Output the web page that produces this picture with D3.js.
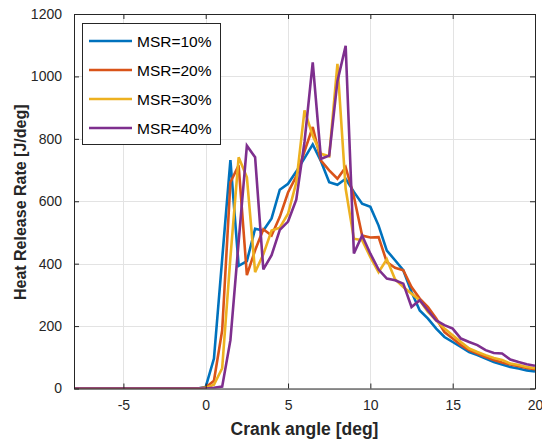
<!DOCTYPE html>
<html>
<head>
<meta charset="utf-8">
<script src="https://cdn.jsdelivr.net/npm/d3@7"></script>
<style>
  html, body { margin: 0; padding: 0; background: #fff; }
  svg { display: block; font-family: Arial, "Liberation Sans", sans-serif; }
</style>
</head>
<body>
<svg id="chart" width="542" height="441"></svg>
<script>
// Crank angle samples: -8 .. 20 every 0.5 deg
const angles = d3.range(-8, 20.0001, 0.5);
const seriesNames = ["MSR=10%", "MSR=20%", "MSR=30%", "MSR=40%"];
const seriesColors = ["#0072BD", "#D95319", "#EDB120", "#7E2F8E"];
const preZero = new Array(16).fill(0); // -8 .. -0.5

const msr10 = preZero.concat([5, 96, 415, 732, 393, 408, 512, 506, 545, 637, 656, 695, 738, 782, 728, 661, 653, 672, 630, 592, 582, 522, 442, 411, 379, 309, 250, 224, 192, 165, 149, 133, 117, 107, 96, 85, 77, 69, 64, 58, 55]);
const msr20 = preZero.concat([3, 25, 186, 661, 715, 363, 443, 510, 490, 550, 628, 680, 760, 838, 730, 699, 672, 709, 615, 490, 484, 485, 405, 387, 379, 325, 288, 261, 224, 181, 160, 139, 123, 112, 101, 91, 83, 77, 71, 66, 62]);
const msr30 = preZero.concat([2, 12, 65, 420, 741, 677, 373, 430, 506, 515, 560, 660, 891, 810, 752, 744, 1040, 640, 480, 475, 421, 373, 414, 350, 325, 304, 283, 245, 218, 192, 171, 149, 128, 117, 107, 98, 91, 80, 75, 69, 65]);
const msr40 = preZero.concat([0, 2, 6, 155, 470, 778, 741, 382, 427, 508, 535, 605, 790, 1045, 736, 746, 985, 1098, 433, 490, 432, 381, 352, 347, 336, 261, 283, 250, 218, 203, 192, 160, 149, 139, 123, 114, 112, 93, 85, 78, 73]);
const seriesValues = [msr10, msr20, msr30, msr40];

const xTicks = [-5, 0, 5, 10, 15, 20];
const yTicks = [0, 200, 400, 600, 800, 1000, 1200];
const xLabel = "Crank angle [deg]";
const yLabel = "Heat Release Rate [J/deg]";

const svg = d3.select("#chart");
const L = 74, R = 535, T = 14, B = 388.5;
const x = d3.scaleLinear().domain([-8, 20]).range([L, R]);
const y = d3.scaleLinear().domain([0, 1200]).range([B, T]);
const axisColor = "#262626";
const fmt = d => String(d); // plain hyphen-minus like the reference

// grid
const g = svg.append("g");
g.selectAll(".gx").data(xTicks).join("line")
  .attr("x1", d => Math.round(x(d)) + 0.5).attr("x2", d => Math.round(x(d)) + 0.5)
  .attr("y1", T).attr("y2", B).attr("stroke", "#e3e3e3").attr("stroke-width", 1);
g.selectAll(".gy").data(yTicks).join("line")
  .attr("y1", d => Math.round(y(d)) + 0.5).attr("y2", d => Math.round(y(d)) + 0.5)
  .attr("x1", L).attr("x2", R).attr("stroke", "#e3e3e3").attr("stroke-width", 1);

// lines
const defs = svg.append("defs");
defs.append("clipPath").attr("id", "clip").append("rect")
  .attr("x", L).attr("y", T - 2).attr("width", R - L).attr("height", B - T + 2);
const line = d3.line().x((d, i) => x(angles[i])).y(d => y(d));
const lg = svg.append("g").attr("clip-path", "url(#clip)");
seriesValues.forEach((vals, k) => {
  lg.append("path").datum(vals).attr("d", line)
    .attr("fill", "none").attr("stroke", seriesColors[k])
    .attr("stroke-width", 2.6).attr("stroke-linejoin", "miter").attr("stroke-miterlimit", 3);
});

// axes (box with inward ticks)
const ax = svg.append("g");
const xb = d3.axisBottom(x).tickValues(xTicks).tickSizeInner(-5).tickSizeOuter(0).tickPadding(12).tickFormat(fmt);
const xt = d3.axisTop(x).tickValues(xTicks).tickSizeInner(-5).tickSizeOuter(0).tickFormat("");
const yl = d3.axisLeft(y).tickValues(yTicks).tickSizeInner(-5).tickSizeOuter(0).tickPadding(12).tickFormat(fmt);
const yr = d3.axisRight(y).tickValues(yTicks).tickSizeInner(-5).tickSizeOuter(0).tickFormat("");
function styleAxis(sel) {
  sel.selectAll("path").attr("stroke", axisColor);
  sel.selectAll("line").attr("stroke", axisColor);
  sel.selectAll("text").attr("fill", axisColor).style("font-size", "14px")
    .style("font-family", "Arial, 'Liberation Sans', sans-serif");
}
ax.append("g").attr("transform", `translate(0,${B})`).call(xb).call(styleAxis);
ax.append("g").attr("transform", `translate(0,${T})`).call(xt).call(styleAxis);
ax.append("g").attr("transform", `translate(${L},0)`).call(yl).call(styleAxis);
ax.append("g").attr("transform", `translate(${R},0)`).call(yr).call(styleAxis);
ax.selectAll(".domain").attr("stroke-width", 1);

// axis labels
svg.append("text").attr("x", (L + R) / 2).attr("y", 435).attr("text-anchor", "middle")
  .attr("fill", axisColor).style("font-size", "17.5px").style("font-weight", "bold").text(xLabel);
svg.append("text").attr("transform", `translate(26,${(T + B) / 2 + 1}) rotate(-90)`)
  .attr("text-anchor", "middle").attr("fill", axisColor)
  .style("font-size", "16px").style("font-weight", "bold").text(yLabel);

// legend
const leg = svg.append("g");
leg.append("rect").attr("x", 82.5).attr("y", 23.5).attr("width", 138).attr("height", 121)
  .attr("fill", "#fff").attr("stroke", axisColor).attr("stroke-width", 1);
seriesNames.forEach((name, k) => {
  const yy = 41 + k * 29;
  leg.append("line").attr("x1", 89).attr("x2", 132).attr("y1", yy).attr("y2", yy)
    .attr("stroke", seriesColors[k]).attr("stroke-width", 2.6);
  leg.append("text").attr("x", 137).attr("y", yy + 5.5).attr("fill", "#000")
    .style("font-size", "15.5px").text(name);
});
</script>
</body>
</html>
